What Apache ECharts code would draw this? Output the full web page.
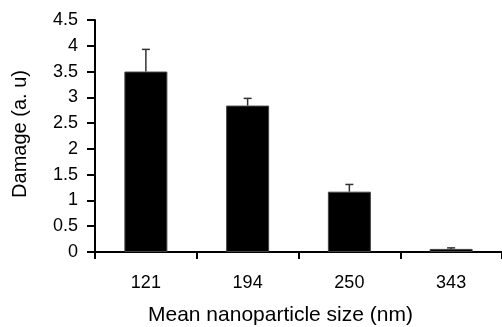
<!DOCTYPE html>
<html>
<head>
<meta charset="utf-8">
<script src="https://cdn.jsdelivr.net/npm/echarts@6/dist/echarts.min.js"></script>
<style>html,body{margin:0;padding:0;background:#fff;}#c{width:502px;height:327px;}</style>
</head>
<body>
<div id="c"></div>
<script>
const categories = ['121', '194', '250', '343'];
const damage = [3.5, 2.84, 1.17, 0.06];
const errorUpper = [3.93, 2.98, 1.31, 0.08];
const yTicks = ['0', '0.5', '1', '1.5', '2', '2.5', '3', '3.5', '4', '4.5'];
const xName = 'Mean nanoparticle size (nm)';
const yName = 'Damage (a. u)';

const font = 'Liberation Sans, Arial, Helvetica, sans-serif';
const chart = echarts.init(document.getElementById('c'));
chart.setOption({
  animation: false,
  grid: { left: 95, top: 20, width: 416, bottom: 75, containLabel: false },
  xAxis: {
    type: 'category',
    data: categories,
    boundaryGap: true,
    axisLine: { lineStyle: { color: '#000', width: 2 } },
    axisTick: { show: true, length: 7, lineStyle: { color: '#000', width: 2 } },
    axisLabel: { color: '#000', fontSize: 18, fontFamily: font, margin: 22 }
  },
  yAxis: {
    type: 'value',
    min: 0, max: 4.5, interval: 0.5,
    axisLine: { show: true, lineStyle: { color: '#000', width: 2 } },
    axisTick: { show: true, length: 8, lineStyle: { color: '#000', width: 2 } },
    splitLine: { show: false },
    axisLabel: { color: '#000', fontSize: 18, fontFamily: font, margin: 17,
      formatter: function (v) { const i = Math.round(v / 0.5); return yTicks[i]; } }
  },
  graphic: [
    { type: 'text', x: 148, y: 315, style: { text: xName, fill: '#000', font: '21px ' + font, align: 'left', verticalAlign: 'middle' } },
    { type: 'text', x: 20, y: 134, rotation: Math.PI / 2,
      style: { text: yName, fill: '#000', font: '20px ' + font, align: 'center', verticalAlign: 'middle' } }
  ],
  series: [
    {
      type: 'bar',
      data: damage,
      barWidth: 43,
      itemStyle: { color: '#000', borderColor: '#444', borderWidth: 1 }
    },
    {
      type: 'custom',
      data: categories.map(function (c, i) { return [i, damage[i], errorUpper[i]]; }),
      renderItem: function (params, api) {
        const p0 = api.coord([api.value(0), api.value(1)]);
        const p1 = api.coord([api.value(0), api.value(2)]);
        return {
          type: 'group',
          children: [
            { type: 'line', shape: { x1: p0[0], y1: p0[1], x2: p1[0], y2: p1[1] }, style: { stroke: '#333', lineWidth: 1.5 } },
            { type: 'line', shape: { x1: p1[0] - 4, y1: p1[1], x2: p1[0] + 4, y2: p1[1] }, style: { stroke: '#333', lineWidth: 1.5 } }
          ]
        };
      },
      z: 3
    }
  ]
});
</script>
</body>
</html>
